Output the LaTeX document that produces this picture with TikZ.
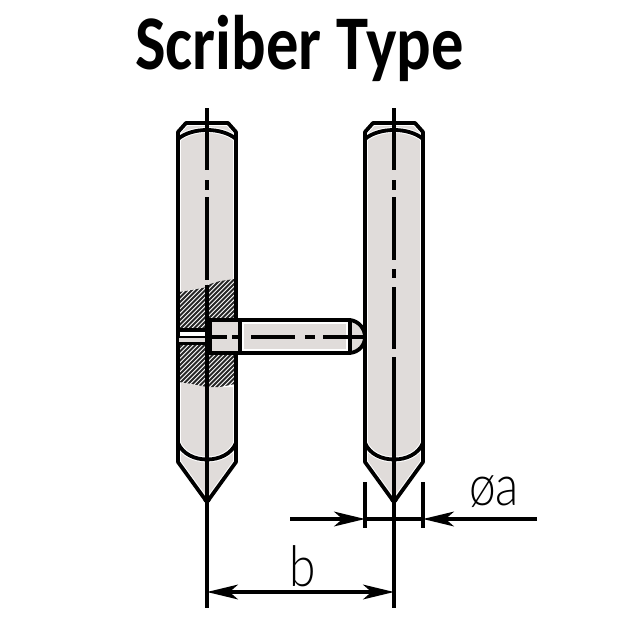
\documentclass[tikz,border=0pt]{standalone}
\usepackage{graphicx}
\usepackage{fontspec}
\setmainfont{Carlito}
\newfontfamily\thinfont{Lato Light}
\usetikzlibrary{arrows.meta}
\definecolor{pingray}{HTML}{E0DCDA}
\tikzset{
  outline/.style={line width=2.7pt, line join=round},
  halo/.style={line width=4.2pt, white, line join=round},
  centerln/.style={line width=2.4pt},
  hatchln/.style={line width=1.4pt, black!85},
  dimln/.style={line width=2.2pt},
}
\begin{document}
\begin{tikzpicture}[x=0.025cm, y=-0.025cm, >={Stealth[length=22pt,width=10.5pt,inset=6pt]}]
\useasboundingbox (0,0) rectangle (640,640);
\node (title) at (299.5,48) {\scalebox{0.835}[1]{\bfseries\fontsize{55}{60}\selectfont Scriber Type}};
% pins
\foreach \cx in {207,394} {
  \fill[pingray] (\cx-29,132)--(\cx-21,123)--(\cx+21,123)--(\cx+29,132)--(\cx+29,462)--(\cx,502)--(\cx-29,462)--cycle;
  \foreach \sty in {halo,outline} {
    \draw[\sty] (\cx-29,132)--(\cx-21,123)--(\cx+21,123)--(\cx+29,132)--(\cx+29,462)--(\cx,502)--(\cx-29,462)--cycle;
    \draw[\sty] (\cx-29,139) .. controls (\cx-15,127) and (\cx+15,127) .. (\cx+29,139);
    \draw[\sty] (\cx-29,443) .. controls (\cx-20,465) and (\cx+20,465) .. (\cx+29,443);
  }
  \fill (\cx,499) circle (4);
  \draw[centerln] (\cx,108)--(\cx,170) (\cx,180)--(\cx,190) (\cx,197)--(\cx,260);
}
\draw[centerln] (207,260)--(207,280);
\draw[centerln] (394,269)--(394,278) (394,287)--(394,349) (394,357)--(394,503);
% section of left pin
\fill[white] (179,292)--(207,287)--(207,285)--(235,279)--(235,387)--(207,387)--(179,382)--cycle;
\begin{scope}
\clip (179,292)--(192,290)--(207,287)--(207,285)--(220,281)--(235,279)--(235,320)--(207,320)--(207,329)--(179,329)--cycle;
\foreach \k in {-60,-57,...,100} \draw[hatchln] (100+\k*1.5,400)--(230+\k*1.5,270);
\end{scope}
\begin{scope}
\clip (179,345)--(207,345)--(207,353)--(235,353)--(235,384)--(220,387)--(207,387)--(192,384)--(179,382)--cycle;
\foreach \k in {-60,-57,...,100} \draw[hatchln] (100+\k*1.5,400)--(230+\k*1.5,270);
\end{scope}
\draw[outline] (178,285)--(178,390) (236,279)--(236,390);
% hole
\fill[pingray] (179,337)--(207,337)--(207,343)--(179,343)--cycle;
\draw[outline] (179,330)--(207,330) (179,343.5)--(207,343.5);
\draw[line width=1.6pt] (179,337)--(207,337);
% shaft
\fill[pingray] (240,320) rectangle (350,353);
\fill[pingray] (350,320) .. controls (359,321) and (365,329) .. (365,337) .. controls (365,345) and (359,352) .. (350,353)--cycle;
\draw[white, line width=1pt] (243,323) rectangle (347,350);
\draw[outline] (240,320)--(350,320) .. controls (359,321) and (365,329) .. (365,337) .. controls (365,345) and (359,352) .. (350,353)--(240,353);
\draw[outline] (350,320)--(350,353);
% head
\fill[pingray] (209,320) rectangle (238,353);
\draw[outline] (209,320) rectangle (240,353);
\draw[line width=3.6pt] (209,318.5)--(209,354.5);
\draw[centerln] (207,337)--(227,337) (232,337)--(240,337) (251,337)--(295,337) (305,337)--(315,337) (323,337)--(365,337);
\draw[centerln] (207,285)--(207,510);
% dimensions
\coordinate (extAt) at (365,482); \coordinate (extAb) at (365,528);
\coordinate (extBt) at (423,482); \coordinate (extBb) at (423,528);
\coordinate (dimAl) at (290,519); \coordinate (dimAr) at (365,519);
\coordinate (dimBl) at (423,519); \coordinate (dimBr) at (537,519);
\coordinate (extL) at (207,500); \coordinate (extLb) at (207,608);
\coordinate (extR) at (394,500); \coordinate (extRb) at (394,608);
\coordinate (bL) at (207,592); \coordinate (bR) at (394,592);
\draw[dimln] (extAt)--(extAb);
\draw[dimln] (extBt)--(extBb);
\draw[dimln] (extL)--(extLb);
\draw[dimln] (extR)--(extRb);
\draw[dimln] (dimAr)--(dimBl);
\draw[dimln,->] (dimAl)--(dimAr);
\draw[dimln,->] (dimBr)--(dimBl);
\draw[dimln,<->] (bL)--(bR);
\node (labelb) at (303,566) {\scalebox{0.85}[1]{\thinfont\fontsize{40}{42}\selectfont b}};
\node (labela) at (494,492) {\scalebox{0.85}[1]{\thinfont\fontsize{40}{42}\selectfont øa}};
\end{tikzpicture}
\end{document}
